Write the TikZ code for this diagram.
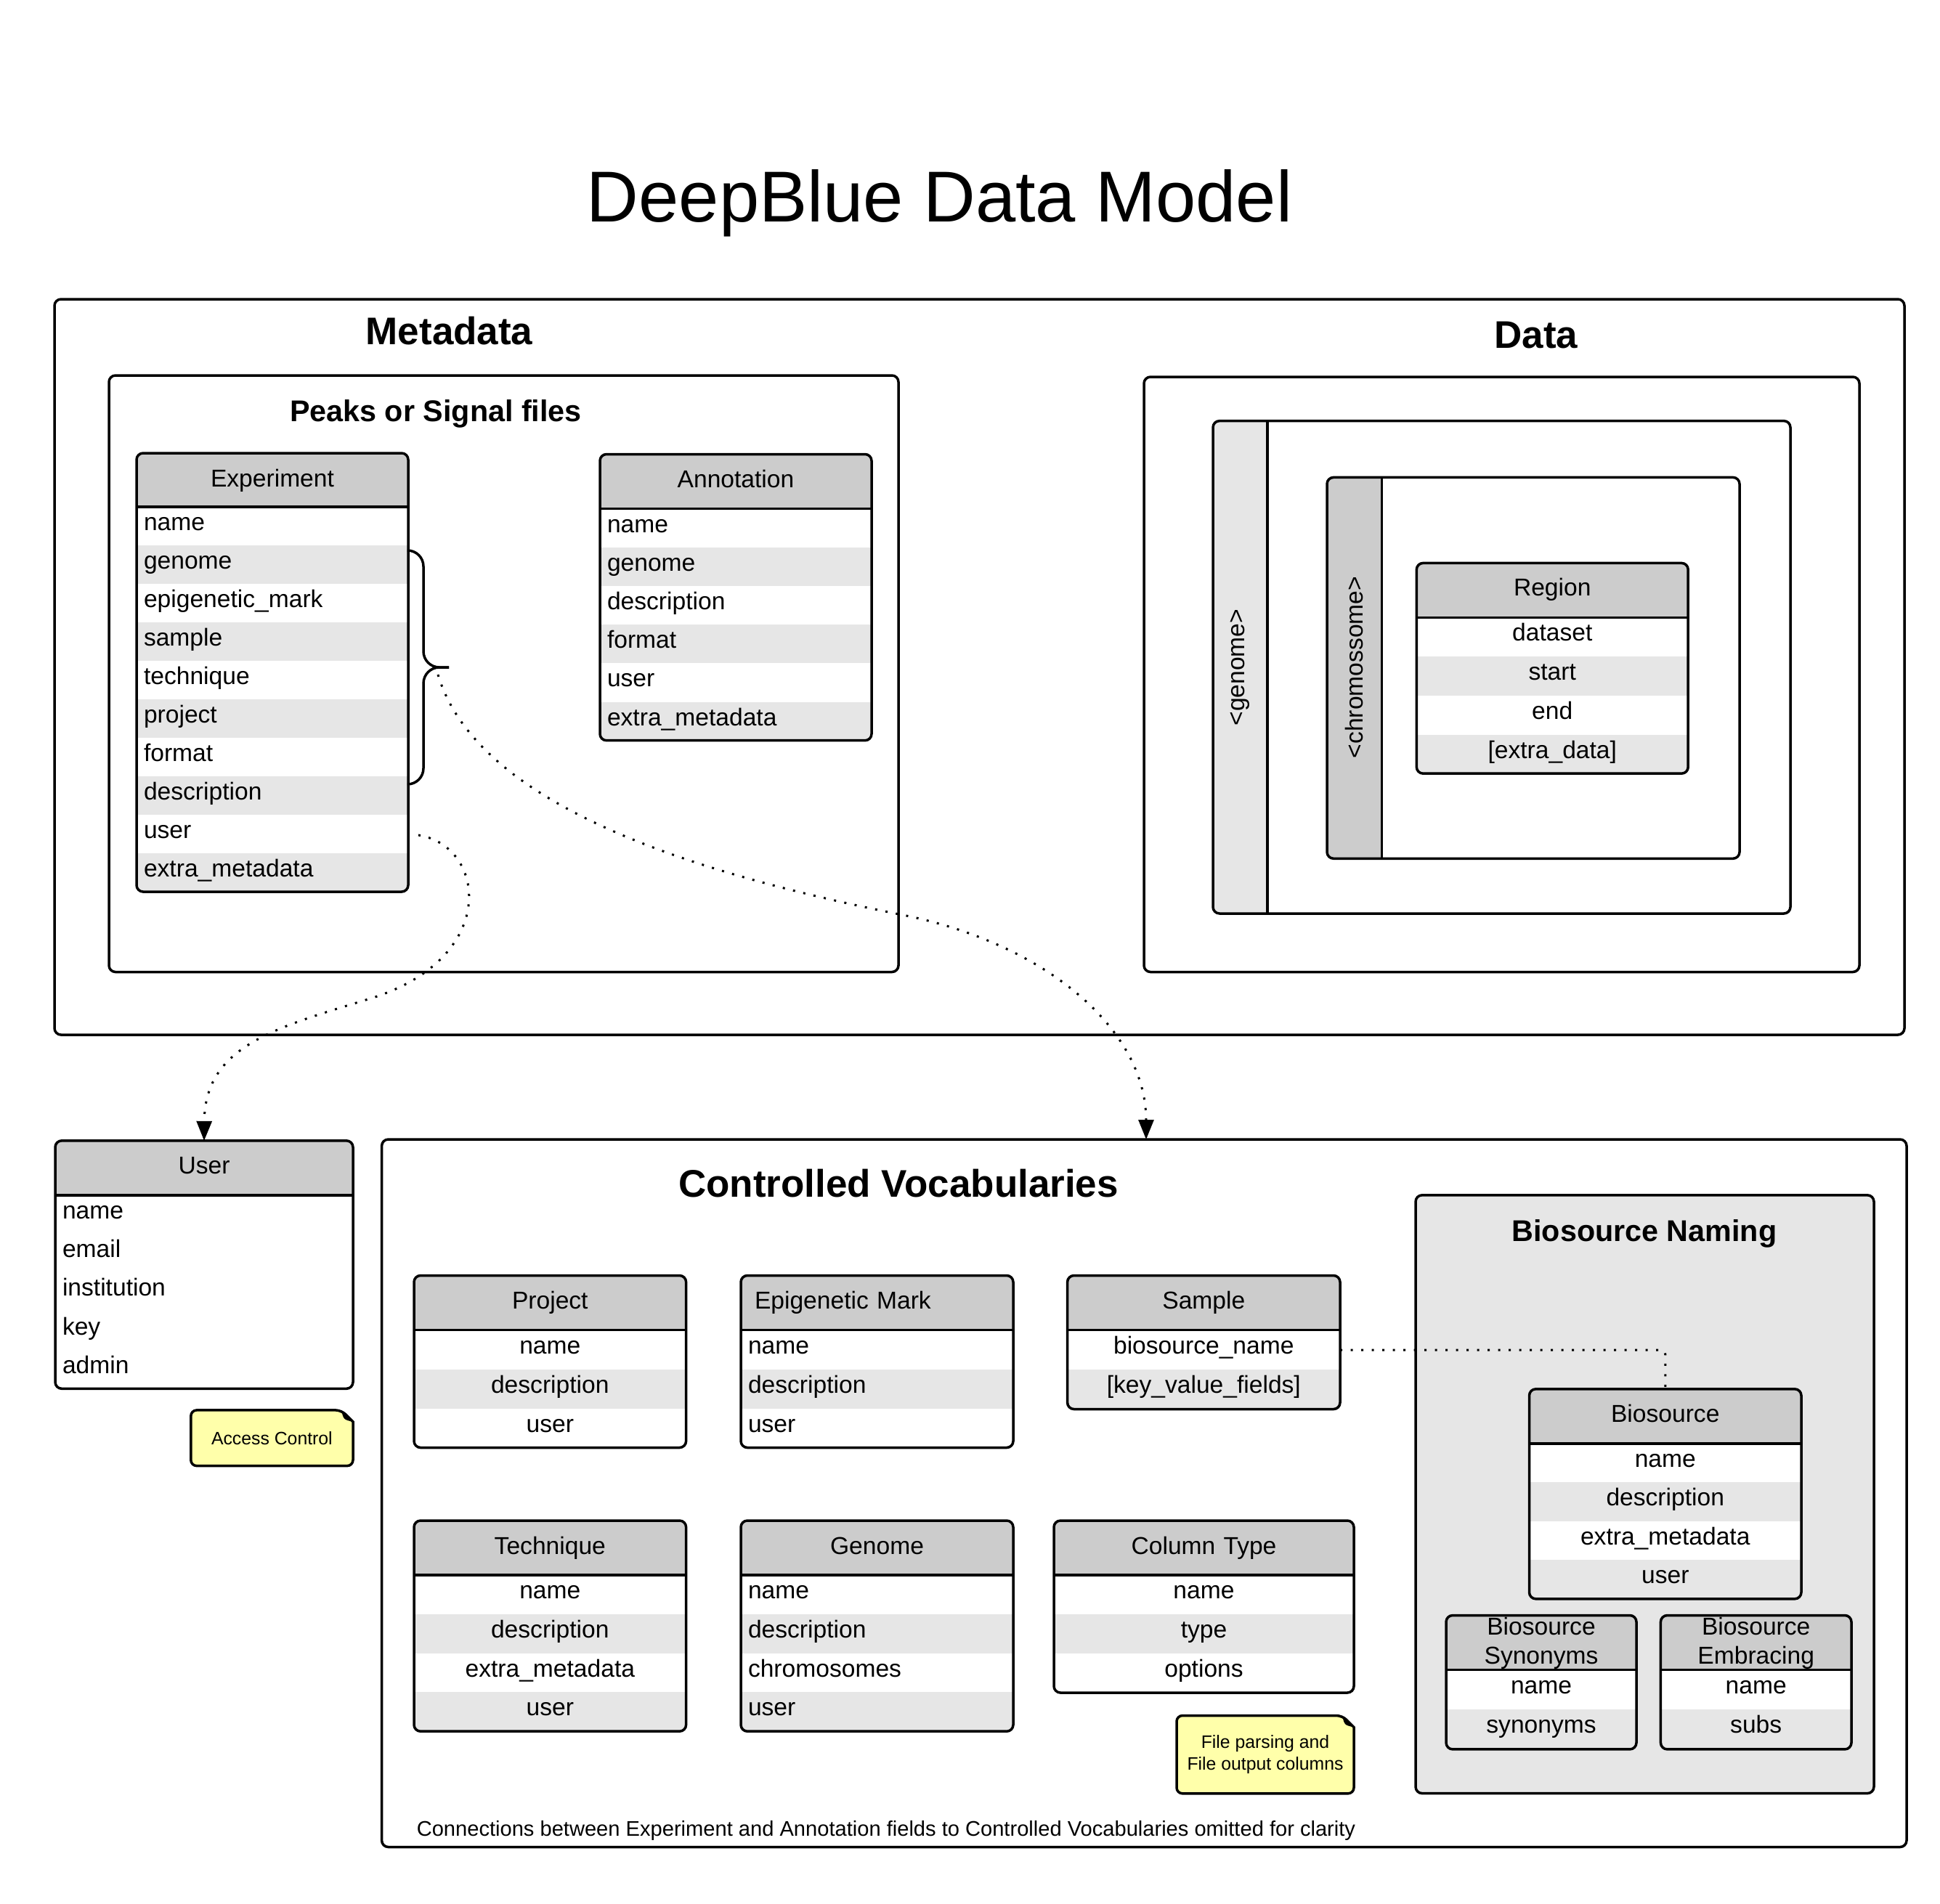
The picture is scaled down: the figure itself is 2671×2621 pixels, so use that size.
\documentclass[tikz,border=0pt]{standalone}
\usepackage{fontspec}
\setmainfont{Liberation Sans}
\usetikzlibrary{arrows.meta}
\definecolor{headgray}{HTML}{CCCCCC}
\definecolor{stripegray}{HTML}{E6E6E6}
\definecolor{notey}{HTML}{FFFFAA}
\newcommand{\bodyfont}{\fontsize{33.6}{40}\selectfont}
\newcommand{\notefont}{\fontsize{24.8}{30}\selectfont}
\newcommand{\bigbold}{\bfseries\fontsize{53}{60}\selectfont}
\newcommand{\midbold}{\bfseries\fontsize{41.3}{48}\selectfont}

\pgfkeys{
 /er/rowh/.store in=\erRowH,
 /er/headh/.store in=\erHeadH,
 /er/titley/.store in=\erTitleY,
 /er/titleinset/.store in=\erTitleInset,
 /er/stripe/.store in=\erStripe,
 /er/rowsleft/.code={\tikzset{er row/.append style={align=left}}},
 /er/titleleft/.code={\tikzset{er title/.append style={align=left}}},
}

% #1 options, #2 name, #3 left, #4 top, #5 right, #6 title, #7 rows
\newcommand{\erbox}[7][]{%
 \begingroup
 \pgfkeys{/er/.cd,rowh=53.4,headh=75,titley=46,titleinset=19,stripe=stripegray,#1}%
 \foreach [count=\erK] \erItem in {#7} {\xdef\erN{\erK}}%
 \pgfmathsetmacro\erHB{#4+\erHeadH}%
 \pgfmathsetmacro\erB{\erHB+\erN*\erRowH}%
 \pgfmathsetmacro\erHt{\erB-#4}%
 \pgfmathsetmacro\erW{#5-#3}%
 \pgfmathsetmacro\erM{(#3+#5)/2}%
 \pgfmathsetmacro\erTW{\erW-20}%
 \pgfmathsetmacro\erTTW{\erW-2*\erTitleInset}%
 \begin{scope}
  \clip[rounded corners=9pt] (#3,#4) rectangle (#5,\erB);
  \fill[white] (#3,#4) rectangle (#5,\erB);
  \fill[headgray] (#3,#4) rectangle (#5,\erHB);
  \foreach [count=\erK] \erItem in {#7} {%
    \pgfmathsetmacro\erYa{\erHB+(\erK-1)*\erRowH}%
    \ifodd\erK\relax\else\fill[fill=\erStripe] (#3,\erYa) rectangle ++(\erW,\erRowH);\fi
  }
 \end{scope}
 \draw[line width=3.5pt] (#3,\erHB) -- (#5,\erHB);
 \node[panelsty,minimum width=\erW pt,minimum height=\erHt pt] (#2) at (#3,#4) {};
 \node[er title,text width=\erTTW pt] (#2-title) at (\erM,#4+\erTitleY) {#6};
 \foreach [count=\erK] \erItem in {#7} {%
    \pgfmathsetmacro\erYa{\erHB+(\erK-1)*\erRowH}%
    \node[er row,text width=\erTW pt] (#2-\erK) at (\erM,\erYa+32.5) {\erItem};
 }
 \endgroup
}

% #1 options, #2 name, #3 L, #4 T, #5 R, #6 B
\newcommand{\panel}[6][]{%
 \pgfmathsetmacro\pW{#5-#3}\pgfmathsetmacro\pH{#6-#4}%
 \node[panelsty,#1,minimum width=\pW pt,minimum height=\pH pt] (#2) at (#3,#4) {};}

% #1 name #2 L #3 T #4 R #5 B #6 text
\newcommand{\notebox}[6]{%
 \draw[line width=3.5pt, fill=notey, rounded corners=8pt] (#2,#5) -- (#2,#3) -- (#4-16,#3) [sharp corners] -- (#4,#3+16) [rounded corners=8pt] -- (#4,#5) -- cycle;
 \fill[black] (#4-16,#3) .. controls (#4-13,#3+13) .. (#4,#3+16) -- cycle;
 \node[align=center, inner sep=0pt, font=\notefont] (#1) at ({(#2+#4)/2},{(#3+#5)/2}) {#6};
}

\begin{document}
\begin{tikzpicture}[x=1pt,y=-1pt,
  panelsty/.style={draw, line width=3.5pt, rounded corners=9pt, inner sep=0pt, outer sep=0pt, anchor=north west},
  er row/.style={anchor=base, inner sep=0pt, font=\bodyfont, align=center},
  er title/.style={anchor=base, inner sep=0pt, font=\bodyfont, align=center},
  dotconn/.style={line width=3pt, dash pattern=on 3pt off 11.5pt},
  tip/.style={-{Triangle[length=27pt,width=21pt]}},
  brace/.style={line width=3.5pt, rounded corners=22pt},
  ]
\fill[white] (0,0) rectangle (2671,2621);
\useasboundingbox (0,0) rectangle (2671,2621);

\node[anchor=base, inner sep=0pt, font=\fontsize{99.3}{112}\selectfont] (title) at (1293.7,305) {DeepBlue Data Model};

% ---------------- Metadata / Data ----------------
\panel{meta}{75}{412}{2622}{1425}
\node[anchor=base, inner sep=0pt, font=\bigbold] (metatitle) at (618.6,474) {Metadata};
\node[anchor=base, inner sep=0pt, font=\bigbold] (datatitle) at (2115,479) {Data};

\panel{peaks}{150}{517}{1237}{1338.5}
\node[anchor=base, inner sep=0pt, font=\midbold] (peakstitle) at (600,580) {Peaks or Signal files};

\erbox[rowsleft,rowh=53,headh=74]{exp}{188}{624}{562}{Experiment}{name,genome,epigenetic\_mark,sample,technique,project,format,description,user,extra\_metadata}
\erbox[rowsleft,rowh=53.2,headh=75]{ann}{826}{625.5}{1200}{Annotation}{name,genome,description,format,user,extra\_metadata}

\panel{data}{1575}{519}{2560}{1338.5}
\begin{scope}
 \clip[rounded corners=9pt] (1670,579.6) rectangle (2465,1258);
 \fill[stripegray] (1670,579.6) rectangle (1745,1258);
\end{scope}
\draw[line width=3.5pt] (1745,579.6) -- (1745,1258);
\panel{genomebox}{1670}{579.6}{2465}{1258}
\node[rotate=90, inner sep=0pt, font=\bodyfont] (genomelbl) at (1707,919) {<genome>};

\begin{scope}
 \clip[rounded corners=9pt] (1827,657.4) rectangle (2395,1182.3);
 \fill[headgray] (1827,657.4) rectangle (1902.4,1182.3);
\end{scope}
\draw[line width=3.5pt] (1902.4,657.4) -- (1902.4,1182.3);
\panel{chrbox}{1827}{657.4}{2395}{1182.3}
\node[rotate=90, inner sep=0pt, font=\bodyfont] (chrlbl) at (1864.6,919) {<chromossome>};

\erbox[rowh=53.7,titley=45]{region}{1950.3}{775.4}{2324.2}{Region}{dataset,start,end,[extra\_data]}

% brace
\coordinate (brtop) at (562,758);
\coordinate (brbot) at (562,1080);
\coordinate (brtip) at (618,919);
\draw[brace] (brtop) -| (583,919) -- (brtip);
\draw[brace] (brbot) -| (583,919) -- (brtip);

% ---------------- User ----------------
\erbox[rowsleft,rowh=53.3,stripe=white]{user}{76}{1570.8}{486}{User}{name,email,institution,key,admin}
\notebox{accessnote}{262.8}{1941.9}{486}{2018.6}{Access Control}

% ---------------- Controlled Vocabularies ----------------
\panel{cv}{525.6}{1569}{2625}{2543.5}
\node[anchor=base, inner sep=0pt, font=\bigbold] (cvtitle) at (1237,1648) {Controlled Vocabularies};

\erbox[rowh=54]{project}{570}{1756.5}{944.6}{Project}{name,description,user}
\erbox[rowsleft,titleleft,rowh=54]{epi}{1020}{1756.5}{1395}{Epigenetic Mark}{name,description,user}
\erbox[rowh=54.5]{sample}{1469.6}{1756.5}{1845}{Sample}{biosource\_name,[key\_value\_fields]}
\erbox[rowh=53.8]{technique}{570}{2094}{944.6}{Technique}{name,description,extra\_metadata,user}
\erbox[rowsleft,rowh=53.8]{genome}{1020}{2094}{1395}{Genome}{name,description,chromosomes,user}
\erbox[rowh=54]{coltype}{1451}{2094}{1864}{Column Type}{name,type,options}
\notebox{filenote}{1620}{2362.5}{1864}{2469.8}{File parsing and\\File output columns}

\panel[fill=stripegray]{bsn}{1949}{1645.8}{2580}{2469.6}
\node[anchor=base, inner sep=0pt, font=\midbold] (bsntitle) at (2264,1709) {Biosource Naming};
\erbox[rowh=53.5]{biosource}{2105.5}{1912.8}{2480}{Biosource}{name,description,extra\_metadata,user}
\erbox[rowh=54.7,titley=27]{synonyms}{1991}{2224.5}{2253}{Biosource\\Synonyms}{name,synonyms}
\erbox[rowh=54.7,titley=27]{embracing}{2286.4}{2224.5}{2549}{Biosource\\Embracing}{name,subs}

\node[anchor=base west, inner sep=0pt, font=\fontsize{29.1}{34}\selectfont] (footer) at (573.6,2528) {Connections between Experiment and Annotation fields to Controlled Vocabularies omitted for clarity};

% ---------------- connectors ----------------
\coordinate (c1s) at (603,929);
\coordinate (c1m) at (1243,1260);
\coordinate (cvtarget) at (1578,1569);
\draw[dotconn,tip] (c1s) .. controls (660,1120) and (993,1210) .. (c1m) .. controls (1443,1300) and (1578,1420) .. (cvtarget);

\coordinate (c2s) at (576,1150);
\coordinate (c2m) at (510,1375);
\draw[dotconn,tip] (c2s) .. controls (670,1165) and (688,1320) .. (c2m) .. controls (380,1415) and (282,1440) .. (user.north);

\coordinate (sbs) at (1845,1859);
\draw[dotconn, rounded corners=6pt] (sbs) -| (biosource.north);
\end{tikzpicture}
\end{document}
